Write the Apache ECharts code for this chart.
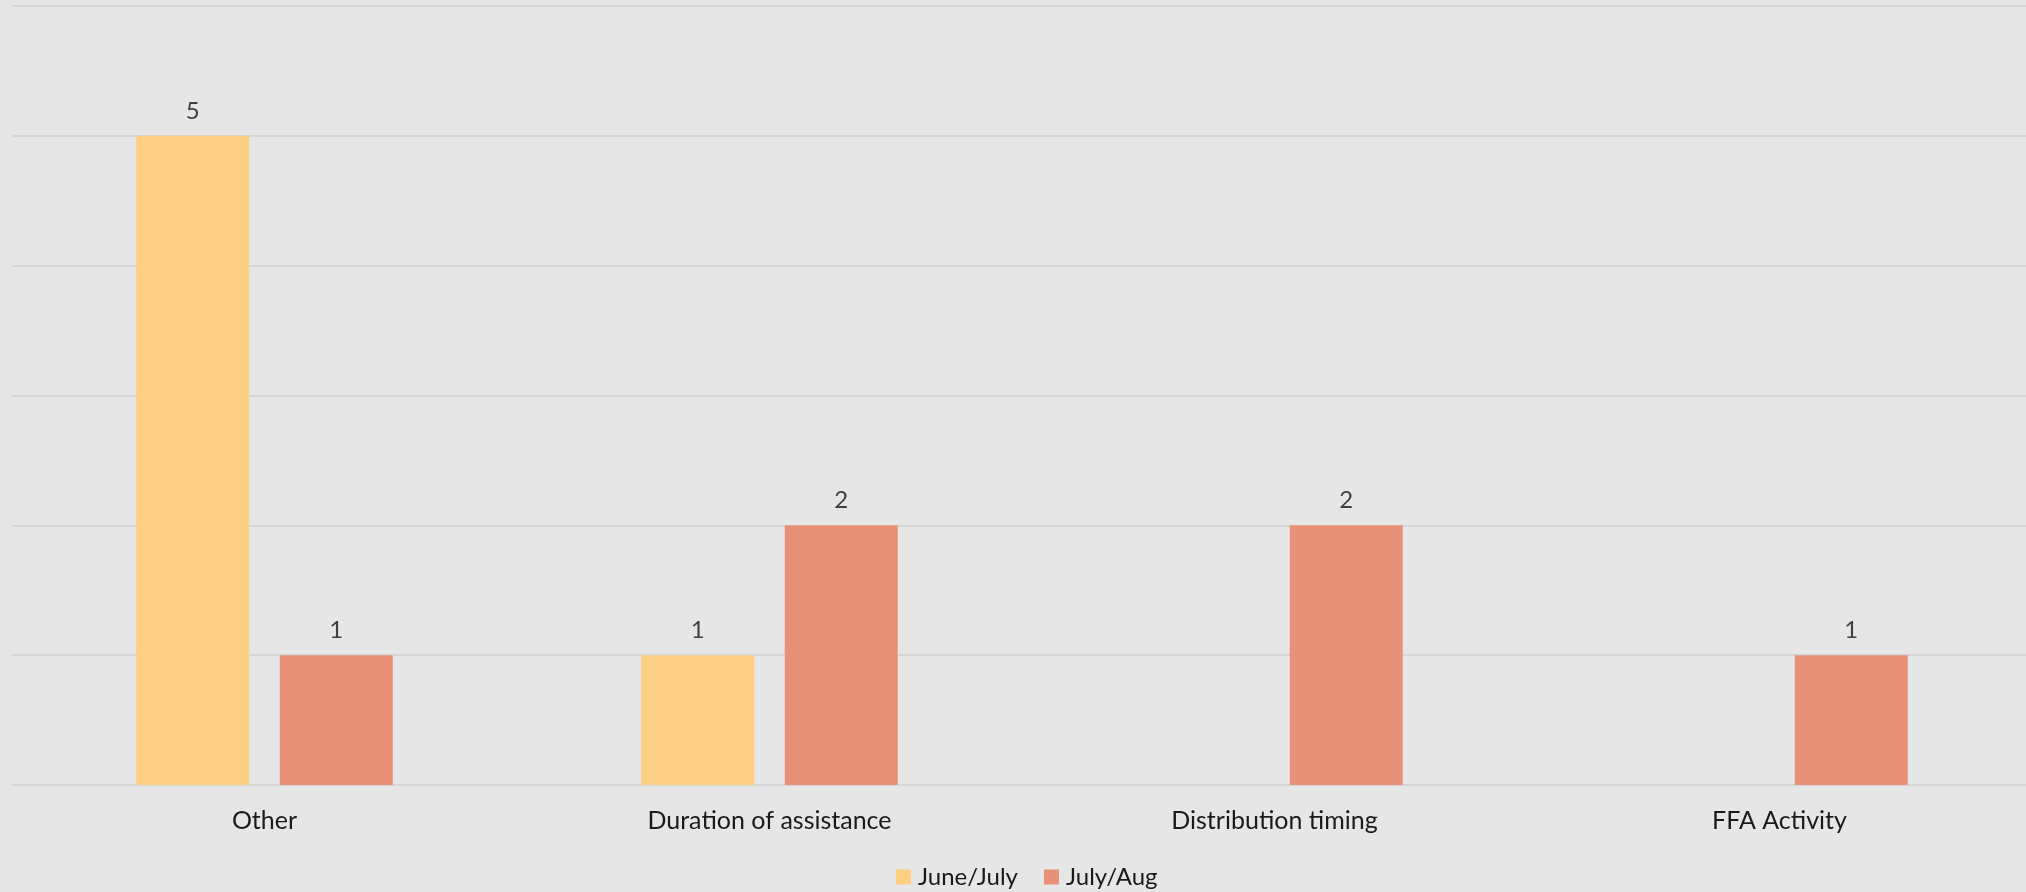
<!DOCTYPE html>
<html>
<head>
<meta charset="utf-8">
<title>Feedback topics</title>
<script src="https://cdn.jsdelivr.net/npm/echarts@6/dist/echarts.min.js"></script>
<style>
  html, body { margin: 0; padding: 0; background: #e6e6e6; overflow: hidden; }
  /* the plot area runs a few pixels past the right edge of the page */
  #chart { width: 2032px; height: 892px; }
</style>
</head>
<body>
<div id="chart"></div>
<script>
// Categories and counts per reporting period
const categories = ['Other', 'Duration of assistance', 'Distribution timing', 'FFA Activity'];
const juneJuly = [5, 1, null, null];
const julyAug = [1, 2, 2, 1];
const seriesNames = ['June/July', 'July/Aug'];

const FONT = 'Lato';

const labelStyle = {
  show: true,
  position: 'top',
  distance: 13,
  color: '#404040',
  fontFamily: FONT,
  fontSize: 24
};

const chart = echarts.init(document.getElementById('chart'), null, { renderer: 'canvas' });

chart.setOption({
  backgroundColor: '#e6e6e6',
  animation: false,
  grid: { left: 12, right: 0, top: 6, bottom: 107, containLabel: false },
  legend: {
    data: seriesNames,
    left: 896,
    top: 865,
    padding: 0,
    itemWidth: 15,
    itemHeight: 15,
    itemGap: 26,
    icon: 'rect',
    textStyle: { color: '#1a1a1a', fontFamily: FONT, fontSize: 24, padding: [0, 0, 0, 2] }
  },
  xAxis: {
    type: 'category',
    data: categories,
    axisLine: { show: false },
    axisTick: { show: false },
    axisLabel: { color: '#1a1a1a', fontFamily: FONT, fontSize: 25, margin: 23 }
  },
  yAxis: {
    type: 'value',
    min: 0,
    max: 6,
    interval: 1,
    axisLabel: { show: false },
    axisLine: { show: false },
    axisTick: { show: false },
    splitLine: { lineStyle: { color: '#d6d6d6', width: 2 } }
  },
  series: [
    {
      name: seriesNames[0],
      type: 'bar',
      data: juneJuly,
      barWidth: 113,
      barGap: '27%',
      itemStyle: { color: '#fdcf82' },
      label: labelStyle
    },
    {
      name: seriesNames[1],
      type: 'bar',
      data: julyAug,
      barWidth: 113,
      barGap: '27%',
      itemStyle: { color: '#e89178' },
      label: labelStyle
    }
  ]
});
</script>
</body>
</html>
